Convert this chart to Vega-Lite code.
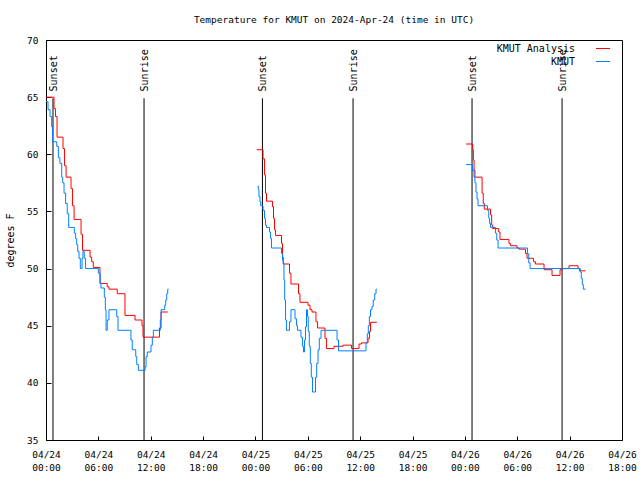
{
  "$schema": "https://vega.github.io/schema/vega-lite/v6.json",
  "autosize": {"type": "none"},
  "padding": {"left": 46, "top": 40, "right": 18, "bottom": 40},
  "width": 576,
  "height": 400,
  "background": "white",
  "config": {
    "font": "DejaVu Sans Mono",
    "view": {"stroke": "black", "strokeWidth": 1},
    "axis": {"grid": false, "domainColor": "black", "tickColor": "black", "labelColor": "black", "titleColor": "black", "labelFont": "DejaVu Sans Mono", "titleFont": "DejaVu Sans Mono", "labelFontSize": 9.5, "titleFontSize": 10, "titleFontWeight": "normal"}
  },
  "title": {"text": "Temperature for KMUT on 2024-Apr-24 (time in UTC)", "font": "DejaVu Sans Mono", "fontSize": 9.5, "fontWeight": "normal", "color": "black", "anchor": "middle", "offset": 11},
  "datasets": {
    "sun": [
      {"time": "2024-04-24T00:48:00Z", "label": "Sunset"},
      {"time": "2024-04-24T11:14:00Z", "label": "Sunrise"},
      {"time": "2024-04-25T00:48:00Z", "label": "Sunset"},
      {"time": "2024-04-25T11:11:00Z", "label": "Sunrise"},
      {"time": "2024-04-26T00:49:00Z", "label": "Sunset"},
      {"time": "2024-04-26T11:08:00Z", "label": "Sunrise"}
    ],
    "temps": [
      {"time": "2024-04-24T00:00:00Z", "temp": 65.0, "series": "KMUT Analysis", "seg": "r1"},
      {"time": "2024-04-24T00:55:00Z", "temp": 64.0, "series": "KMUT Analysis", "seg": "r1"},
      {"time": "2024-04-24T01:05:00Z", "temp": 63.3, "series": "KMUT Analysis", "seg": "r1"},
      {"time": "2024-04-24T01:16:00Z", "temp": 61.5, "series": "KMUT Analysis", "seg": "r1"},
      {"time": "2024-04-24T01:57:00Z", "temp": 60.5, "series": "KMUT Analysis", "seg": "r1"},
      {"time": "2024-04-24T02:07:00Z", "temp": 59.0, "series": "KMUT Analysis", "seg": "r1"},
      {"time": "2024-04-24T02:18:00Z", "temp": 58.0, "series": "KMUT Analysis", "seg": "r1"},
      {"time": "2024-04-24T02:52:00Z", "temp": 57.0, "series": "KMUT Analysis", "seg": "r1"},
      {"time": "2024-04-24T03:02:00Z", "temp": 55.5, "series": "KMUT Analysis", "seg": "r1"},
      {"time": "2024-04-24T03:13:00Z", "temp": 54.3, "series": "KMUT Analysis", "seg": "r1"},
      {"time": "2024-04-24T04:01:00Z", "temp": 53.0, "series": "KMUT Analysis", "seg": "r1"},
      {"time": "2024-04-24T04:11:00Z", "temp": 51.6, "series": "KMUT Analysis", "seg": "r1"},
      {"time": "2024-04-24T05:03:00Z", "temp": 51.0, "series": "KMUT Analysis", "seg": "r1"},
      {"time": "2024-04-24T05:14:00Z", "temp": 50.6, "series": "KMUT Analysis", "seg": "r1"},
      {"time": "2024-04-24T05:25:00Z", "temp": 50.1, "series": "KMUT Analysis", "seg": "r1"},
      {"time": "2024-04-24T06:11:00Z", "temp": 48.7, "series": "KMUT Analysis", "seg": "r1"},
      {"time": "2024-04-24T07:01:00Z", "temp": 48.4, "series": "KMUT Analysis", "seg": "r1"},
      {"time": "2024-04-24T07:13:00Z", "temp": 48.2, "series": "KMUT Analysis", "seg": "r1"},
      {"time": "2024-04-24T08:10:00Z", "temp": 47.8, "series": "KMUT Analysis", "seg": "r1"},
      {"time": "2024-04-24T09:03:00Z", "temp": 45.9, "series": "KMUT Analysis", "seg": "r1"},
      {"time": "2024-04-24T10:12:00Z", "temp": 45.5, "series": "KMUT Analysis", "seg": "r1"},
      {"time": "2024-04-24T11:00:00Z", "temp": 45.0, "series": "KMUT Analysis", "seg": "r1"},
      {"time": "2024-04-24T11:07:00Z", "temp": 44.0, "series": "KMUT Analysis", "seg": "r1"},
      {"time": "2024-04-24T13:00:00Z", "temp": 44.8, "series": "KMUT Analysis", "seg": "r1"},
      {"time": "2024-04-24T13:11:00Z", "temp": 46.2, "series": "KMUT Analysis", "seg": "r1"},
      {"time": "2024-04-24T13:57:00Z", "temp": 46.2, "series": "KMUT Analysis", "seg": "r1"},
      {"time": "2024-04-25T00:09:00Z", "temp": 60.4, "series": "KMUT Analysis", "seg": "r2"},
      {"time": "2024-04-25T00:52:00Z", "temp": 59.6, "series": "KMUT Analysis", "seg": "r2"},
      {"time": "2024-04-25T01:02:00Z", "temp": 58.2, "series": "KMUT Analysis", "seg": "r2"},
      {"time": "2024-04-25T01:09:00Z", "temp": 56.6, "series": "KMUT Analysis", "seg": "r2"},
      {"time": "2024-04-25T01:16:00Z", "temp": 55.9, "series": "KMUT Analysis", "seg": "r2"},
      {"time": "2024-04-25T01:57:00Z", "temp": 55.4, "series": "KMUT Analysis", "seg": "r2"},
      {"time": "2024-04-25T02:04:00Z", "temp": 54.4, "series": "KMUT Analysis", "seg": "r2"},
      {"time": "2024-04-25T02:11:00Z", "temp": 53.4, "series": "KMUT Analysis", "seg": "r2"},
      {"time": "2024-04-25T02:18:00Z", "temp": 52.9, "series": "KMUT Analysis", "seg": "r2"},
      {"time": "2024-04-25T02:59:00Z", "temp": 52.2, "series": "KMUT Analysis", "seg": "r2"},
      {"time": "2024-04-25T03:06:00Z", "temp": 51.0, "series": "KMUT Analysis", "seg": "r2"},
      {"time": "2024-04-25T03:11:00Z", "temp": 50.4, "series": "KMUT Analysis", "seg": "r2"},
      {"time": "2024-04-25T03:54:00Z", "temp": 49.6, "series": "KMUT Analysis", "seg": "r2"},
      {"time": "2024-04-25T04:04:00Z", "temp": 48.65, "series": "KMUT Analysis", "seg": "r2"},
      {"time": "2024-04-25T04:56:00Z", "temp": 47.8, "series": "KMUT Analysis", "seg": "r2"},
      {"time": "2024-04-25T05:06:00Z", "temp": 47.05, "series": "KMUT Analysis", "seg": "r2"},
      {"time": "2024-04-25T06:01:00Z", "temp": 46.8, "series": "KMUT Analysis", "seg": "r2"},
      {"time": "2024-04-25T06:15:00Z", "temp": 46.4, "series": "KMUT Analysis", "seg": "r2"},
      {"time": "2024-04-25T06:29:00Z", "temp": 46.2, "series": "KMUT Analysis", "seg": "r2"},
      {"time": "2024-04-25T06:56:00Z", "temp": 45.35, "series": "KMUT Analysis", "seg": "r2"},
      {"time": "2024-04-25T07:07:00Z", "temp": 44.8, "series": "KMUT Analysis", "seg": "r2"},
      {"time": "2024-04-25T07:58:00Z", "temp": 43.9, "series": "KMUT Analysis", "seg": "r2"},
      {"time": "2024-04-25T08:08:00Z", "temp": 43.0, "series": "KMUT Analysis", "seg": "r2"},
      {"time": "2024-04-25T09:00:00Z", "temp": 43.2, "series": "KMUT Analysis", "seg": "r2"},
      {"time": "2024-04-25T10:02:00Z", "temp": 43.3, "series": "KMUT Analysis", "seg": "r2"},
      {"time": "2024-04-25T11:00:00Z", "temp": 43.0, "series": "KMUT Analysis", "seg": "r2"},
      {"time": "2024-04-25T11:52:00Z", "temp": 43.4, "series": "KMUT Analysis", "seg": "r2"},
      {"time": "2024-04-25T12:09:00Z", "temp": 43.5, "series": "KMUT Analysis", "seg": "r2"},
      {"time": "2024-04-25T12:54:00Z", "temp": 43.9, "series": "KMUT Analysis", "seg": "r2"},
      {"time": "2024-04-25T13:04:00Z", "temp": 44.5, "series": "KMUT Analysis", "seg": "r2"},
      {"time": "2024-04-25T13:11:00Z", "temp": 45.3, "series": "KMUT Analysis", "seg": "r2"},
      {"time": "2024-04-25T13:54:00Z", "temp": 45.3, "series": "KMUT Analysis", "seg": "r2"},
      {"time": "2024-04-26T00:08:00Z", "temp": 60.9, "series": "KMUT Analysis", "seg": "r3"},
      {"time": "2024-04-26T00:54:00Z", "temp": 60.4, "series": "KMUT Analysis", "seg": "r3"},
      {"time": "2024-04-26T00:58:00Z", "temp": 59.5, "series": "KMUT Analysis", "seg": "r3"},
      {"time": "2024-04-26T01:03:00Z", "temp": 58.6, "series": "KMUT Analysis", "seg": "r3"},
      {"time": "2024-04-26T01:09:00Z", "temp": 58.0, "series": "KMUT Analysis", "seg": "r3"},
      {"time": "2024-04-26T01:58:00Z", "temp": 56.6, "series": "KMUT Analysis", "seg": "r3"},
      {"time": "2024-04-26T02:06:00Z", "temp": 55.7, "series": "KMUT Analysis", "seg": "r3"},
      {"time": "2024-04-26T02:13:00Z", "temp": 55.2, "series": "KMUT Analysis", "seg": "r3"},
      {"time": "2024-04-26T02:56:00Z", "temp": 54.7, "series": "KMUT Analysis", "seg": "r3"},
      {"time": "2024-04-26T03:04:00Z", "temp": 53.8, "series": "KMUT Analysis", "seg": "r3"},
      {"time": "2024-04-26T03:11:00Z", "temp": 53.5, "series": "KMUT Analysis", "seg": "r3"},
      {"time": "2024-04-26T03:52:00Z", "temp": 53.2, "series": "KMUT Analysis", "seg": "r3"},
      {"time": "2024-04-26T04:01:00Z", "temp": 52.55, "series": "KMUT Analysis", "seg": "r3"},
      {"time": "2024-04-26T05:03:00Z", "temp": 52.2, "series": "KMUT Analysis", "seg": "r3"},
      {"time": "2024-04-26T05:13:00Z", "temp": 52.0, "series": "KMUT Analysis", "seg": "r3"},
      {"time": "2024-04-26T05:58:00Z", "temp": 51.8, "series": "KMUT Analysis", "seg": "r3"},
      {"time": "2024-04-26T06:12:00Z", "temp": 51.7, "series": "KMUT Analysis", "seg": "r3"},
      {"time": "2024-04-26T06:57:00Z", "temp": 51.3, "series": "KMUT Analysis", "seg": "r3"},
      {"time": "2024-04-26T07:07:00Z", "temp": 50.9, "series": "KMUT Analysis", "seg": "r3"},
      {"time": "2024-04-26T07:52:00Z", "temp": 50.6, "series": "KMUT Analysis", "seg": "r3"},
      {"time": "2024-04-26T08:05:00Z", "temp": 50.4, "series": "KMUT Analysis", "seg": "r3"},
      {"time": "2024-04-26T09:04:00Z", "temp": 49.9, "series": "KMUT Analysis", "seg": "r3"},
      {"time": "2024-04-26T09:59:00Z", "temp": 49.4, "series": "KMUT Analysis", "seg": "r3"},
      {"time": "2024-04-26T10:54:00Z", "temp": 49.9, "series": "KMUT Analysis", "seg": "r3"},
      {"time": "2024-04-26T11:08:00Z", "temp": 50.0, "series": "KMUT Analysis", "seg": "r3"},
      {"time": "2024-04-26T11:56:00Z", "temp": 50.25, "series": "KMUT Analysis", "seg": "r3"},
      {"time": "2024-04-26T12:58:00Z", "temp": 50.0, "series": "KMUT Analysis", "seg": "r3"},
      {"time": "2024-04-26T13:08:00Z", "temp": 49.8, "series": "KMUT Analysis", "seg": "r3"},
      {"time": "2024-04-26T13:50:00Z", "temp": 49.8, "series": "KMUT Analysis", "seg": "r3"},
      {"time": "2024-04-24T00:00:00Z", "temp": 64.6, "series": "KMUT", "seg": "b1"},
      {"time": "2024-04-24T00:14:00Z", "temp": 63.9, "series": "KMUT", "seg": "b1"},
      {"time": "2024-04-24T00:28:00Z", "temp": 63.3, "series": "KMUT", "seg": "b1"},
      {"time": "2024-04-24T00:39:00Z", "temp": 62.4, "series": "KMUT", "seg": "b1"},
      {"time": "2024-04-24T00:46:00Z", "temp": 61.1, "series": "KMUT", "seg": "b1"},
      {"time": "2024-04-24T01:14:00Z", "temp": 60.7, "series": "KMUT", "seg": "b1"},
      {"time": "2024-04-24T01:25:00Z", "temp": 59.7, "series": "KMUT", "seg": "b1"},
      {"time": "2024-04-24T01:36:00Z", "temp": 59.2, "series": "KMUT", "seg": "b1"},
      {"time": "2024-04-24T01:48:00Z", "temp": 58.0, "series": "KMUT", "seg": "b1"},
      {"time": "2024-04-24T01:55:00Z", "temp": 57.5, "series": "KMUT", "seg": "b1"},
      {"time": "2024-04-24T02:04:00Z", "temp": 56.6, "series": "KMUT", "seg": "b1"},
      {"time": "2024-04-24T02:15:00Z", "temp": 55.7, "series": "KMUT", "seg": "b1"},
      {"time": "2024-04-24T02:26:00Z", "temp": 54.8, "series": "KMUT", "seg": "b1"},
      {"time": "2024-04-24T02:36:00Z", "temp": 53.6, "series": "KMUT", "seg": "b1"},
      {"time": "2024-04-24T03:15:00Z", "temp": 53.1, "series": "KMUT", "seg": "b1"},
      {"time": "2024-04-24T03:24:00Z", "temp": 52.6, "series": "KMUT", "seg": "b1"},
      {"time": "2024-04-24T03:31:00Z", "temp": 52.1, "series": "KMUT", "seg": "b1"},
      {"time": "2024-04-24T03:38:00Z", "temp": 51.5, "series": "KMUT", "seg": "b1"},
      {"time": "2024-04-24T03:47:00Z", "temp": 50.9, "series": "KMUT", "seg": "b1"},
      {"time": "2024-04-24T03:56:00Z", "temp": 50.0, "series": "KMUT", "seg": "b1"},
      {"time": "2024-04-24T04:08:00Z", "temp": 50.9, "series": "KMUT", "seg": "b1"},
      {"time": "2024-04-24T04:14:00Z", "temp": 51.5, "series": "KMUT", "seg": "b1"},
      {"time": "2024-04-24T04:23:00Z", "temp": 50.9, "series": "KMUT", "seg": "b1"},
      {"time": "2024-04-24T04:32:00Z", "temp": 50.0, "series": "KMUT", "seg": "b1"},
      {"time": "2024-04-24T06:00:00Z", "temp": 49.6, "series": "KMUT", "seg": "b1"},
      {"time": "2024-04-24T06:13:00Z", "temp": 48.7, "series": "KMUT", "seg": "b1"},
      {"time": "2024-04-24T06:18:00Z", "temp": 48.3, "series": "KMUT", "seg": "b1"},
      {"time": "2024-04-24T06:41:00Z", "temp": 47.5, "series": "KMUT", "seg": "b1"},
      {"time": "2024-04-24T06:48:00Z", "temp": 46.4, "series": "KMUT", "seg": "b1"},
      {"time": "2024-04-24T06:53:00Z", "temp": 44.6, "series": "KMUT", "seg": "b1"},
      {"time": "2024-04-24T07:01:00Z", "temp": 45.5, "series": "KMUT", "seg": "b1"},
      {"time": "2024-04-24T07:13:00Z", "temp": 46.4, "series": "KMUT", "seg": "b1"},
      {"time": "2024-04-24T08:06:00Z", "temp": 45.8, "series": "KMUT", "seg": "b1"},
      {"time": "2024-04-24T08:15:00Z", "temp": 44.6, "series": "KMUT", "seg": "b1"},
      {"time": "2024-04-24T09:44:00Z", "temp": 43.75, "series": "KMUT", "seg": "b1"},
      {"time": "2024-04-24T09:53:00Z", "temp": 42.9, "series": "KMUT", "seg": "b1"},
      {"time": "2024-04-24T10:17:00Z", "temp": 42.3, "series": "KMUT", "seg": "b1"},
      {"time": "2024-04-24T10:24:00Z", "temp": 41.6, "series": "KMUT", "seg": "b1"},
      {"time": "2024-04-24T10:35:00Z", "temp": 41.1, "series": "KMUT", "seg": "b1"},
      {"time": "2024-04-24T11:21:00Z", "temp": 41.4, "series": "KMUT", "seg": "b1"},
      {"time": "2024-04-24T11:28:00Z", "temp": 42.3, "series": "KMUT", "seg": "b1"},
      {"time": "2024-04-24T11:36:00Z", "temp": 42.7, "series": "KMUT", "seg": "b1"},
      {"time": "2024-04-24T12:02:00Z", "temp": 43.3, "series": "KMUT", "seg": "b1"},
      {"time": "2024-04-24T12:11:00Z", "temp": 44.0, "series": "KMUT", "seg": "b1"},
      {"time": "2024-04-24T12:18:00Z", "temp": 44.6, "series": "KMUT", "seg": "b1"},
      {"time": "2024-04-24T13:06:00Z", "temp": 45.5, "series": "KMUT", "seg": "b1"},
      {"time": "2024-04-24T13:11:00Z", "temp": 46.4, "series": "KMUT", "seg": "b1"},
      {"time": "2024-04-24T13:36:00Z", "temp": 46.8, "series": "KMUT", "seg": "b1"},
      {"time": "2024-04-24T13:43:00Z", "temp": 47.25, "series": "KMUT", "seg": "b1"},
      {"time": "2024-04-24T13:50:00Z", "temp": 47.8, "series": "KMUT", "seg": "b1"},
      {"time": "2024-04-24T13:57:00Z", "temp": 48.2, "series": "KMUT", "seg": "b1"},
      {"time": "2024-04-24T14:02:00Z", "temp": 48.2, "series": "KMUT", "seg": "b1"},
      {"time": "2024-04-25T00:13:00Z", "temp": 57.2, "series": "KMUT", "seg": "b2"},
      {"time": "2024-04-25T00:20:00Z", "temp": 56.9, "series": "KMUT", "seg": "b2"},
      {"time": "2024-04-25T00:24:00Z", "temp": 56.3, "series": "KMUT", "seg": "b2"},
      {"time": "2024-04-25T00:31:00Z", "temp": 55.85, "series": "KMUT", "seg": "b2"},
      {"time": "2024-04-25T00:36:00Z", "temp": 55.5, "series": "KMUT", "seg": "b2"},
      {"time": "2024-04-25T00:52:00Z", "temp": 55.1, "series": "KMUT", "seg": "b2"},
      {"time": "2024-04-25T01:02:00Z", "temp": 54.4, "series": "KMUT", "seg": "b2"},
      {"time": "2024-04-25T01:09:00Z", "temp": 53.8, "series": "KMUT", "seg": "b2"},
      {"time": "2024-04-25T01:16:00Z", "temp": 53.6, "series": "KMUT", "seg": "b2"},
      {"time": "2024-04-25T01:37:00Z", "temp": 53.2, "series": "KMUT", "seg": "b2"},
      {"time": "2024-04-25T01:43:00Z", "temp": 52.65, "series": "KMUT", "seg": "b2"},
      {"time": "2024-04-25T01:50:00Z", "temp": 51.8, "series": "KMUT", "seg": "b2"},
      {"time": "2024-04-25T02:59:00Z", "temp": 51.3, "series": "KMUT", "seg": "b2"},
      {"time": "2024-04-25T03:06:00Z", "temp": 50.75, "series": "KMUT", "seg": "b2"},
      {"time": "2024-04-25T03:11:00Z", "temp": 50.5, "series": "KMUT", "seg": "b2"},
      {"time": "2024-04-25T03:16:00Z", "temp": 49.0, "series": "KMUT", "seg": "b2"},
      {"time": "2024-04-25T03:21:00Z", "temp": 47.25, "series": "KMUT", "seg": "b2"},
      {"time": "2024-04-25T03:27:00Z", "temp": 45.5, "series": "KMUT", "seg": "b2"},
      {"time": "2024-04-25T03:33:00Z", "temp": 44.6, "series": "KMUT", "seg": "b2"},
      {"time": "2024-04-25T03:54:00Z", "temp": 45.35, "series": "KMUT", "seg": "b2"},
      {"time": "2024-04-25T04:04:00Z", "temp": 46.4, "series": "KMUT", "seg": "b2"},
      {"time": "2024-04-25T04:32:00Z", "temp": 45.6, "series": "KMUT", "seg": "b2"},
      {"time": "2024-04-25T04:42:00Z", "temp": 45.0, "series": "KMUT", "seg": "b2"},
      {"time": "2024-04-25T04:49:00Z", "temp": 44.6, "series": "KMUT", "seg": "b2"},
      {"time": "2024-04-25T05:13:00Z", "temp": 44.0, "series": "KMUT", "seg": "b2"},
      {"time": "2024-04-25T05:23:00Z", "temp": 43.2, "series": "KMUT", "seg": "b2"},
      {"time": "2024-04-25T05:30:00Z", "temp": 42.7, "series": "KMUT", "seg": "b2"},
      {"time": "2024-04-25T05:37:00Z", "temp": 43.75, "series": "KMUT", "seg": "b2"},
      {"time": "2024-04-25T05:44:00Z", "temp": 44.9, "series": "KMUT", "seg": "b2"},
      {"time": "2024-04-25T05:51:00Z", "temp": 46.4, "series": "KMUT", "seg": "b2"},
      {"time": "2024-04-25T05:58:00Z", "temp": 45.8, "series": "KMUT", "seg": "b2"},
      {"time": "2024-04-25T06:03:00Z", "temp": 44.5, "series": "KMUT", "seg": "b2"},
      {"time": "2024-04-25T06:10:00Z", "temp": 43.2, "series": "KMUT", "seg": "b2"},
      {"time": "2024-04-25T06:17:00Z", "temp": 41.7, "series": "KMUT", "seg": "b2"},
      {"time": "2024-04-25T06:24:00Z", "temp": 40.5, "series": "KMUT", "seg": "b2"},
      {"time": "2024-04-25T06:32:00Z", "temp": 39.2, "series": "KMUT", "seg": "b2"},
      {"time": "2024-04-25T06:53:00Z", "temp": 40.5, "series": "KMUT", "seg": "b2"},
      {"time": "2024-04-25T07:01:00Z", "temp": 41.7, "series": "KMUT", "seg": "b2"},
      {"time": "2024-04-25T07:10:00Z", "temp": 42.9, "series": "KMUT", "seg": "b2"},
      {"time": "2024-04-25T07:19:00Z", "temp": 43.9, "series": "KMUT", "seg": "b2"},
      {"time": "2024-04-25T07:31:00Z", "temp": 44.6, "series": "KMUT", "seg": "b2"},
      {"time": "2024-04-25T09:21:00Z", "temp": 43.75, "series": "KMUT", "seg": "b2"},
      {"time": "2024-04-25T09:31:00Z", "temp": 42.8, "series": "KMUT", "seg": "b2"},
      {"time": "2024-04-25T12:40:00Z", "temp": 43.5, "series": "KMUT", "seg": "b2"},
      {"time": "2024-04-25T12:49:00Z", "temp": 44.3, "series": "KMUT", "seg": "b2"},
      {"time": "2024-04-25T12:56:00Z", "temp": 45.0, "series": "KMUT", "seg": "b2"},
      {"time": "2024-04-25T13:03:00Z", "temp": 45.8, "series": "KMUT", "seg": "b2"},
      {"time": "2024-04-25T13:11:00Z", "temp": 46.4, "series": "KMUT", "seg": "b2"},
      {"time": "2024-04-25T13:21:00Z", "temp": 46.7, "series": "KMUT", "seg": "b2"},
      {"time": "2024-04-25T13:30:00Z", "temp": 47.25, "series": "KMUT", "seg": "b2"},
      {"time": "2024-04-25T13:40:00Z", "temp": 47.8, "series": "KMUT", "seg": "b2"},
      {"time": "2024-04-25T13:49:00Z", "temp": 48.2, "series": "KMUT", "seg": "b2"},
      {"time": "2024-04-25T13:54:00Z", "temp": 48.2, "series": "KMUT", "seg": "b2"},
      {"time": "2024-04-26T00:08:00Z", "temp": 59.1, "series": "KMUT", "seg": "b3"},
      {"time": "2024-04-26T00:52:00Z", "temp": 58.6, "series": "KMUT", "seg": "b3"},
      {"time": "2024-04-26T01:03:00Z", "temp": 58.0, "series": "KMUT", "seg": "b3"},
      {"time": "2024-04-26T01:09:00Z", "temp": 57.5, "series": "KMUT", "seg": "b3"},
      {"time": "2024-04-26T01:16:00Z", "temp": 56.7, "series": "KMUT", "seg": "b3"},
      {"time": "2024-04-26T01:23:00Z", "temp": 56.1, "series": "KMUT", "seg": "b3"},
      {"time": "2024-04-26T01:30:00Z", "temp": 55.5, "series": "KMUT", "seg": "b3"},
      {"time": "2024-04-26T02:35:00Z", "temp": 55.1, "series": "KMUT", "seg": "b3"},
      {"time": "2024-04-26T02:44:00Z", "temp": 54.4, "series": "KMUT", "seg": "b3"},
      {"time": "2024-04-26T02:50:00Z", "temp": 53.96, "series": "KMUT", "seg": "b3"},
      {"time": "2024-04-26T02:56:00Z", "temp": 53.6, "series": "KMUT", "seg": "b3"},
      {"time": "2024-04-26T03:30:00Z", "temp": 53.1, "series": "KMUT", "seg": "b3"},
      {"time": "2024-04-26T03:39:00Z", "temp": 52.5, "series": "KMUT", "seg": "b3"},
      {"time": "2024-04-26T03:48:00Z", "temp": 51.8, "series": "KMUT", "seg": "b3"},
      {"time": "2024-04-26T07:10:00Z", "temp": 51.3, "series": "KMUT", "seg": "b3"},
      {"time": "2024-04-26T07:19:00Z", "temp": 50.5, "series": "KMUT", "seg": "b3"},
      {"time": "2024-04-26T07:28:00Z", "temp": 50.0, "series": "KMUT", "seg": "b3"},
      {"time": "2024-04-26T13:13:00Z", "temp": 49.7, "series": "KMUT", "seg": "b3"},
      {"time": "2024-04-26T13:20:00Z", "temp": 49.15, "series": "KMUT", "seg": "b3"},
      {"time": "2024-04-26T13:27:00Z", "temp": 48.6, "series": "KMUT", "seg": "b3"},
      {"time": "2024-04-26T13:34:00Z", "temp": 48.2, "series": "KMUT", "seg": "b3"},
      {"time": "2024-04-26T13:50:00Z", "temp": 48.2, "series": "KMUT", "seg": "b3"}
    ]
  },
  "layer": [
    {
      "data": {"name": "sun"},
      "mark": {"type": "rule", "color": "black", "strokeWidth": 1},
      "encoding": {
        "x": {"field": "time", "type": "temporal",
          "scale": {"type": "utc", "domain": [{"year": 2024, "month": 4, "date": 24, "hours": 0, "utc": true}, {"year": 2024, "month": 4, "date": 26, "hours": 18, "utc": true}]}},
        "y": {"datum": 35, "type": "quantitative", "scale": {"domain": [35, 70], "nice": false, "zero": false}},
        "y2": {"datum": 64.9}
      }
    },
    {
      "data": {"name": "sun"},
      "mark": {"type": "text", "angle": 270, "align": "left", "baseline": "middle", "dy": 1, "font": "DejaVu Sans Mono", "fontSize": 10, "color": "black"},
      "encoding": {
        "x": {"field": "time", "type": "temporal"},
        "y": {"datum": 65.5, "type": "quantitative"},
        "text": {"field": "label"}
      }
    },
    {
      "data": {"name": "temps"},
      "mark": {"type": "line", "interpolate": "step-after", "strokeWidth": 1},
      "encoding": {
        "x": {"field": "time", "type": "temporal",
          "axis": {"title": null,
            "labelExpr": "[utcFormat(datum.value, '%m/%d'), utcFormat(datum.value, '%H:%M')]",
            "labelFlush": false, "labelOverlap": false, "labelAngle": 0, "labelBaseline": "top", "labelLineHeight": 13, "labelPadding": 13, "tickSize": -4}},
        "y": {"field": "temp", "type": "quantitative",
          "axis": {"title": "degrees F", "values": [35, 40, 45, 50, 55, 60, 65, 70], "tickSize": -5, "labelPadding": 13, "titlePadding": 11}},
        "color": {"field": "series", "type": "nominal",
          "scale": {"domain": ["KMUT Analysis", "KMUT"], "range": ["#ff0000", "#0080ff"]},
          "legend": {"orient": "none", "legendX": 549.5, "legendY": 1, "title": null, "padding": 0, "symbolSize": 196, "symbolStrokeWidth": 1, "labelAlign": "right", "labelOffset": -35.5, "labelFont": "DejaVu Sans Mono", "labelFontSize": 10, "labelColor": "black", "rowPadding": 0}},
        "detail": {"field": "seg", "type": "nominal"}
      }
    }
  ]
}
